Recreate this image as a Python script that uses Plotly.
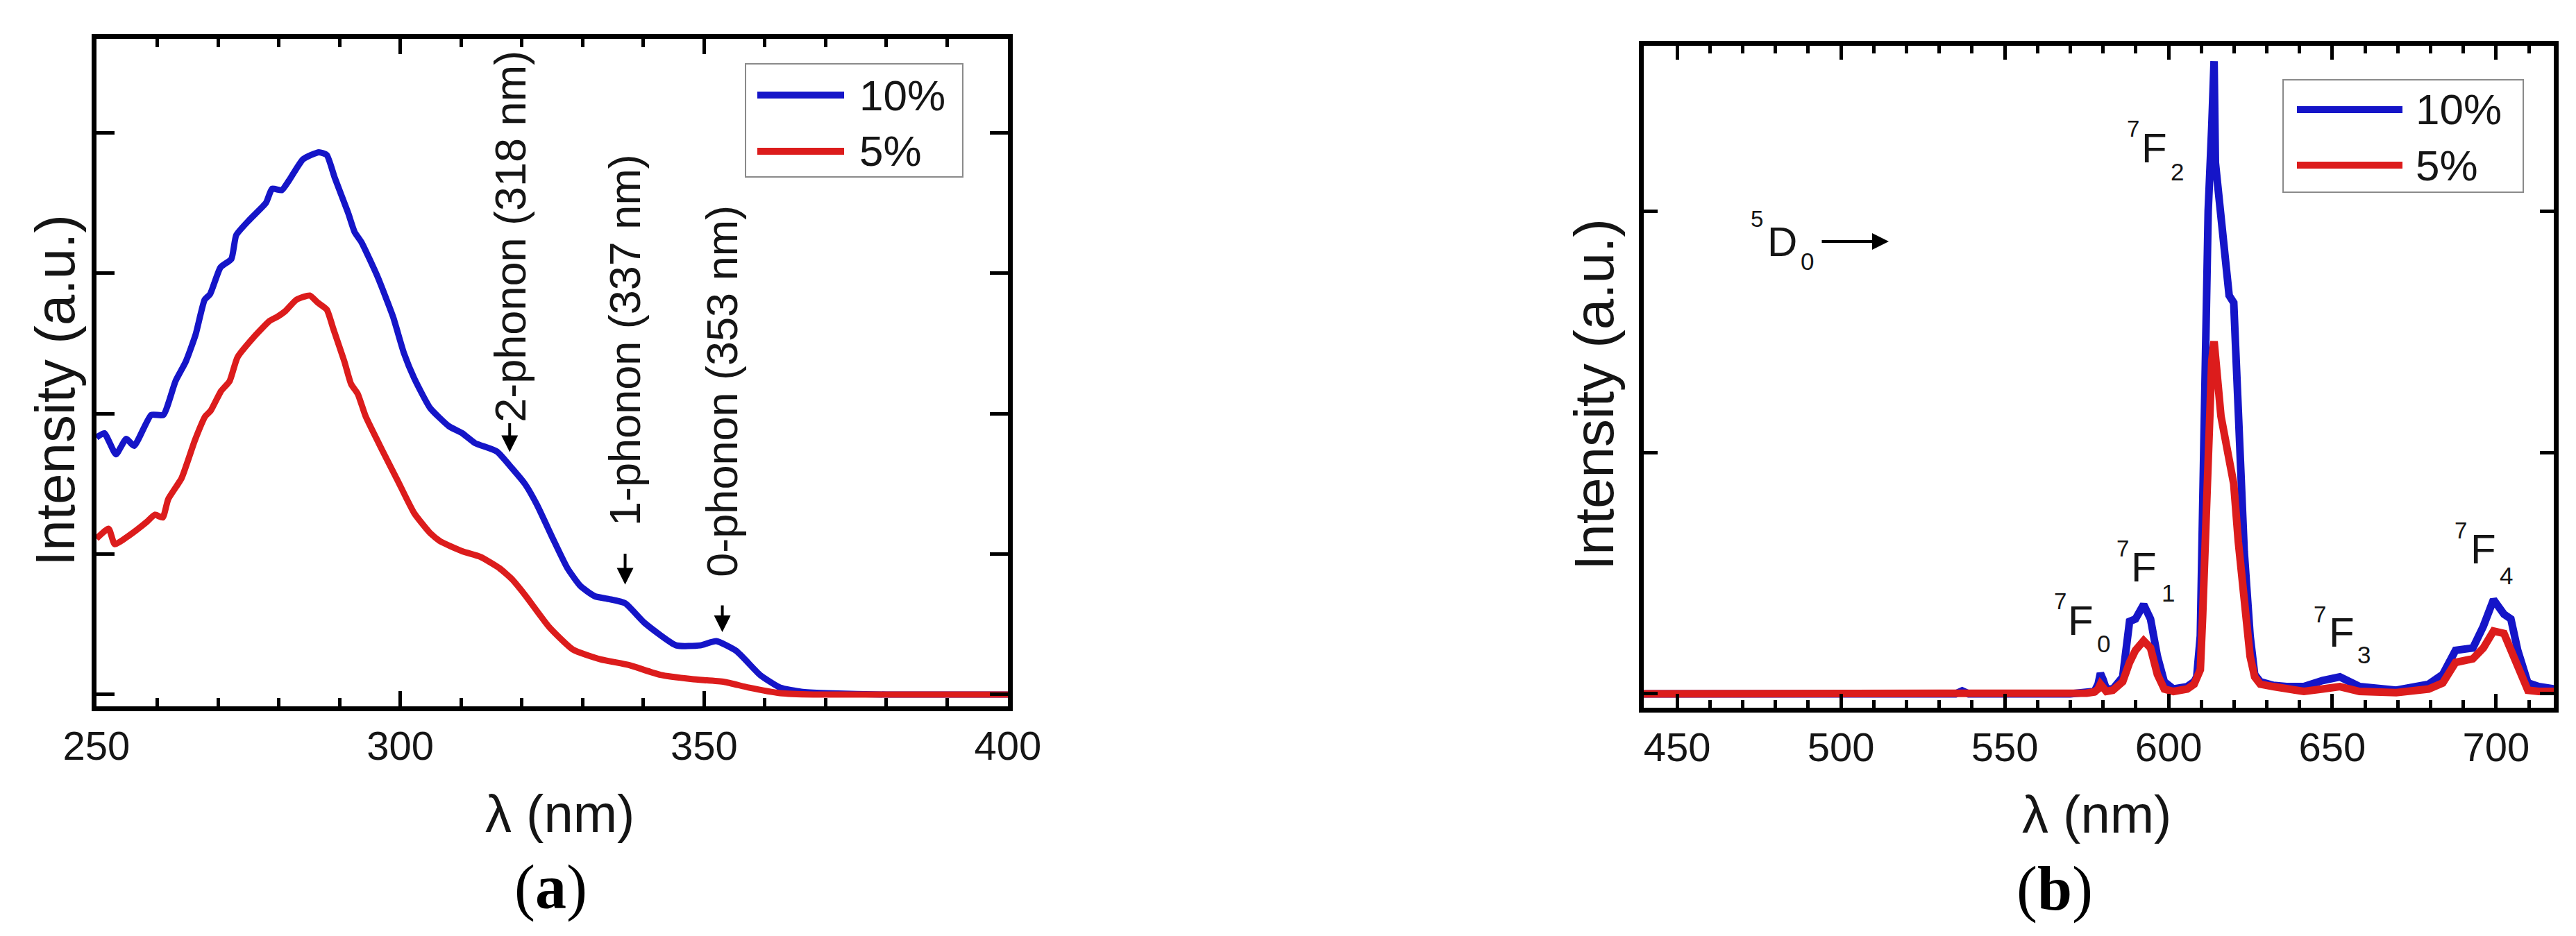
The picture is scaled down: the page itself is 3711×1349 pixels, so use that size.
import plotly.graph_objects as go

W, H = 3711, 1349

# ---- panel (a): excitation spectra ----
lam_a_10 = [250, 251.3, 253.2, 254.9, 256.2, 259, 261, 263, 264.7, 266.3,
            267.8, 268.7, 270.4, 272.2, 273, 275.2, 277.9, 278.9, 280.5, 281.7,
            284, 286.6, 287.9, 289.2, 291.4, 292.5, 293.6, 296.2, 298.8, 300.6,
            302.3, 304.9, 308, 310.2, 312.3, 315.9, 318.4, 320.5, 322.5, 325,
            327.5, 329.7, 332, 334.3, 337, 340.2, 345.4, 349.4, 352, 355.3,
            359.2, 362.5, 366, 370, 380, 400]
int_a_10 = [1.83, 1.86, 1.71, 1.82, 1.77, 1.99, 1.99, 2.23, 2.37, 2.56,
            2.81, 2.85, 3.04, 3.10, 3.27, 3.38, 3.50, 3.60, 3.59, 3.66,
            3.81, 3.86, 3.84, 3.68, 3.43, 3.29, 3.22, 2.98, 2.69, 2.43,
            2.25, 2.04, 1.91, 1.86, 1.79, 1.73, 1.61, 1.50, 1.35, 1.12,
            0.90, 0.77, 0.70, 0.68, 0.65, 0.51, 0.35, 0.35, 0.38, 0.31,
            0.14, 0.05, 0.02, 0.01, 0.0, 0.0]

lam_a_5 = [250, 252, 253, 255.3, 258.3, 259.6, 260.9, 261.8, 264, 266.2,
           267.9, 268.8, 270.5, 271.9, 273.2, 275.8, 278.5, 279.8, 281.1, 282.9,
           285.1, 286.4, 287.9, 289, 290.8, 291.9, 293, 294.3, 296.9, 299.6,
           302.3, 304.9, 306.6, 310.2, 313.2, 316.3, 318.4, 320.5, 324.5, 328.4,
           333, 337.6, 342.8, 348, 353.3, 357.3, 362.5, 368, 400]
int_a_5 = [1.11, 1.18, 1.07, 1.13, 1.23, 1.28, 1.26, 1.39, 1.54, 1.81,
           1.98, 2.02, 2.16, 2.23, 2.40, 2.54, 2.66, 2.69, 2.73, 2.81,
           2.84, 2.79, 2.74, 2.60, 2.37, 2.21, 2.14, 1.98, 1.75, 1.52,
           1.29, 1.15, 1.09, 1.02, 0.98, 0.90, 0.82, 0.71, 0.48, 0.32,
           0.25, 0.21, 0.14, 0.11, 0.09, 0.05, 0.01, 0.0, 0.0]

phonon_labels = ["2-phonon (318 nm)", "1-phonon (337 nm)", "0-phonon (353 nm)"]
phonon_lam = [318, 337, 353]

# ---- panel (b): emission spectra ----
lam_b = [439, 500, 535, 537, 539, 570, 575, 577.4, 578.5, 579.2,
         580, 581, 583, 586, 588.1, 589.9, 592.4, 594.5, 596.6, 598.7,
         601.5, 605.7, 607.8, 608.6, 609.7, 610.4, 611, 612.1, 613.2, 613.9,
         614.3, 615, 616, 618.5, 619.9, 621.3, 623.1, 624.9, 626.3, 628,
         632, 636, 641.3, 647, 652.3, 658.3, 669.5, 679.4, 683.7, 687.6,
         692.9, 696.1, 699.2, 702.4, 704.5, 706.6, 709.7, 713, 718]
int_b_10 = [0, 0, 0, 0.012, 0, 0, 0.005, 0.01, 0.04, 0.085,
            0.06, 0.02, 0.02, 0.07, 0.30, 0.31, 0.37, 0.31, 0.155, 0.05,
            0.02, 0.03, 0.05, 0.07, 0.24, 0.77, 1.48, 2.0, 2.35, 2.62,
            2.2, 2.1, 1.93, 1.65, 1.62, 1.12, 0.59, 0.24, 0.08, 0.05,
            0.035, 0.03, 0.03, 0.055, 0.07, 0.03, 0.015, 0.04, 0.08, 0.18,
            0.19, 0.28, 0.39, 0.33, 0.31, 0.18, 0.045, 0.03, 0.02]
int_b_5 = [0, 0, 0, 0, 0, 0, 0.003, 0.008, 0.02, 0.04,
           0.03, 0.01, 0.015, 0.05, 0.13, 0.18, 0.22, 0.19, 0.08, 0.02,
           0.01, 0.02, 0.04, 0.06, 0.10, 0.32, 0.55, 1.02, 1.38, 1.46,
           1.38, 1.26, 1.15, 0.97, 0.87, 0.63, 0.35, 0.155, 0.07, 0.04,
           0.03, 0.02, 0.01, 0.02, 0.03, 0.01, 0.005, 0.02, 0.045, 0.13,
           0.145, 0.19, 0.26, 0.25, 0.18, 0.10, 0.015, 0.01, 0.01]

series_names = ["10%", "5%"]
BLUE = "#1515c8"
RED = "#dc1c1c"
FONT = "Liberation Sans, Arial, sans-serif"
INK = "#151515"


def fx(px):
    return px / W


def fy(py):
    return 1 - py / H


fig = go.Figure()
fig.add_trace(go.Scatter(x=lam_a_10, y=int_a_10, mode="lines", name=series_names[0],
                         line=dict(color=BLUE, width=9, shape="spline", smoothing=0.5),
                         xaxis="x", yaxis="y", showlegend=False))
fig.add_trace(go.Scatter(x=lam_a_5, y=int_a_5, mode="lines", name=series_names[1],
                         line=dict(color=RED, width=9, shape="spline", smoothing=0.5),
                         xaxis="x", yaxis="y", showlegend=False))
fig.add_trace(go.Scatter(x=lam_b, y=int_b_10, mode="lines", name=series_names[0],
                         line=dict(color=BLUE, width=11),
                         xaxis="x2", yaxis="y2", showlegend=False))
fig.add_trace(go.Scatter(x=lam_b, y=int_b_5, mode="lines", name=series_names[1],
                         line=dict(color=RED, width=11),
                         xaxis="x2", yaxis="y2", showlegend=False))

frame = dict(showline=True, linewidth=7, linecolor="black", mirror="allticks",
             showgrid=False, zeroline=False, ticks="inside", tickcolor="black",
             automargin=False)

fig.update_layout(
    width=W, height=H, autosize=False,
    margin=dict(l=0, r=0, t=0, b=0),
    paper_bgcolor="white", plot_bgcolor="white",
    xaxis=dict(domain=[fx(131), fx(1444)], range=[250, 400], anchor="y",
               tickmode="linear", tick0=250, dtick=50, ticklen=22, tickwidth=5,
               minor=dict(dtick=10, ticklen=12, tickwidth=5, ticks="inside", tickcolor="black"),
               tickfont=dict(size=58, family=FONT, color=INK), **frame),
    yaxis=dict(domain=[fy(1010), fy(48)], range=[-0.084, 4.667], anchor="x",
               tickmode="linear", tick0=0, dtick=1, ticklen=26, tickwidth=5,
               showticklabels=False, **frame),
    xaxis2=dict(domain=[fx(2360), fx(3671)], range=[439.8, 717.6], anchor="y2",
                tickmode="linear", tick0=0, dtick=50, ticklen=20, tickwidth=5,
                minor=dict(dtick=10, ticklen=11, tickwidth=5, ticks="inside", tickcolor="black"),
                tickfont=dict(size=58, family=FONT, color=INK), **frame),
    yaxis2=dict(domain=[fy(1012), fy(58)], range=[-0.0575, 2.684], anchor="x2",
                tickmode="linear", tick0=0, dtick=1, ticklen=20, tickwidth=5,
                showticklabels=False, **frame),
)

ann = []
shapes = []

# axis titles and panel letters
for xc, yc in [(72, 555), (2288, 561)]:
    ann.append(dict(x=fx(xc), y=fy(yc), xref="paper", yref="paper", text="Intensity (a.u.)",
                    textangle=-90, showarrow=False, xanchor="center", yanchor="middle",
                    font=dict(size=80, family=FONT, color=INK)))
for xc, yc in [(798, 1164), (3012, 1165)]:
    ann.append(dict(x=fx(xc), y=fy(yc), xref="paper", yref="paper", text="λ (nm)",
                    showarrow=False, xanchor="center", yanchor="middle",
                    font=dict(size=76, family=FONT, color=INK)))
for xc, yc, letter in [(785, 1271, "a"), (2952, 1273, "b")]:
    ann.append(dict(x=fx(xc), y=fy(yc), xref="paper", yref="paper",
                    text="(<b>%s</b>)" % letter, showarrow=False,
                    xanchor="center", yanchor="middle",
                    font=dict(size=90, family="Liberation Serif, Times New Roman, serif", color="black")))

# phonon markers in panel (a)
tip_y = [1.726, 0.783, 0.444]
text_dy = [-311, -352, -347]
gap = [0, 38, 39]
for lbl, lam, ty, dy, g in zip(phonon_labels, phonon_lam, tip_y, text_dy, gap):
    ann.append(dict(x=lam, y=ty, xref="x", yref="y", text=lbl, textangle=-90,
                    showarrow=True, ax=0, ay=dy, arrowhead=2, arrowsize=1.2,
                    arrowwidth=4, arrowcolor="black", startstandoff=g, standoff=0,
                    font=dict(size=63, family=FONT, color=INK)))

# spectroscopic terms in panel (b): (sup, letter, sub, sup pos, letter pos, sub pos)
terms = [
    ("5", "D", "0", (2523, 307), (2559, 340), (2595, 369)),
    ("7", "F", "2", (3065, 178), (3095, 206), (3128, 240)),
    ("7", "F", "1", (3050, 782), (3080, 809), (3115, 846)),
    ("7", "F", "0", (2960, 858), (2989, 886), (3022, 919)),
    ("7", "F", "3", (3334, 877), (3365, 903), (3397, 936)),
    ("7", "F", "4", (3537, 757), (3569, 783), (3602, 821)),
]
for sup, letter, sub, ps, pl, pb in terms:
    for txt, pos, size in [(sup, ps, 33), (letter, pl, 60), (sub, pb, 35)]:
        ann.append(dict(x=fx(pos[0]), y=fy(pos[1]), xref="paper", yref="paper", text=txt,
                        showarrow=False, xanchor="center", yanchor="middle",
                        font=dict(size=size, family=FONT, color=INK)))
ann.append(dict(x=fx(2713), y=fy(340), xref="paper", yref="paper", text="",
                showarrow=True, ax=-98, ay=0, arrowhead=2, arrowsize=1.2,
                arrowwidth=4, arrowcolor="black", standoff=0))

# legends (one per panel)
legends = [
    ((1066, 84, 1379, 247), (1083, 1208), (129, 210), 1228),
    ((3281, 107, 3627, 269), (3301, 3453), (150, 230), 3470),
]
for box, (lx0, lx1), rows, tx in legends:
    shapes.append(dict(type="rect", xref="paper", yref="paper",
                       x0=fx(box[0]), y0=fy(box[1]), x1=fx(box[2]), y1=fy(box[3]),
                       line=dict(color="#8a8a8a", width=2), fillcolor="white"))
    for name, color, ry in zip(series_names, [BLUE, RED], rows):
        shapes.append(dict(type="line", xref="paper", yref="paper",
                           x0=fx(lx0), x1=fx(lx1), y0=fy(ry), y1=fy(ry),
                           line=dict(color=color, width=10)))
        ann.append(dict(x=fx(tx), y=fy(ry), xref="paper", yref="paper", text=name,
                        showarrow=False, xanchor="left", yanchor="middle",
                        font=dict(size=62, family=FONT, color=INK)))

fig.update_layout(annotations=ann, shapes=shapes)
fig.write_html("out.html")
